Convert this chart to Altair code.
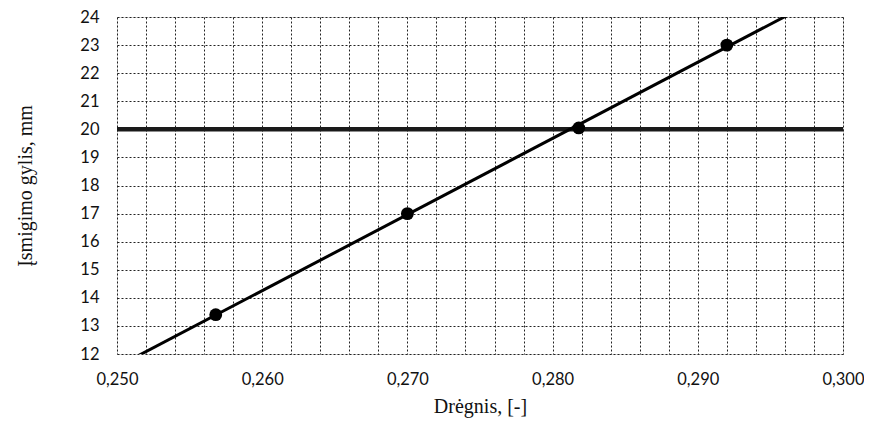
import altair as alt
import pandas as pd

moisture = [0.2568, 0.2700, 0.2818, 0.2920]
depth = [13.4, 17.0, 20.05, 23.0]
limit_depth = [20]
x_ticks = [round(0.250 + 0.002 * i, 3) for i in range(26)]
y_ticks = list(range(12, 25))

pts = pd.DataFrame({"x": moisture, "y": depth})
lim = pd.DataFrame({"y": limit_depth})

xscale = alt.Scale(domain=[0.25, 0.30], nice=False, zero=False)
yscale = alt.Scale(domain=[12, 24], nice=False, zero=False)

xaxis = alt.Axis(
    values=x_ticks,
    labelExpr="round(datum.value*1000) % 10 == 0 ? replace(format(datum.value, '.3f'), '.', ',') : ''",
    title="Drėgnis, [-]",
    ticks=False, domain=False, labelOverlap=False, labelFlush=False,
    grid=True, gridDash=[2, 2], gridColor="#222", gridWidth=1,
    labelFont="Lato", labelFontSize=16.5, labelColor="#111", labelPadding=17,
    titleFont="Liberation Serif", titleFontSize=20, titleFontWeight="normal",
    titleColor="#111", titlePadding=9,
)
yaxis = alt.Axis(
    values=y_ticks,
    title="Įsmigimo gylis, mm",
    ticks=False, domain=False, labelOverlap=False, labelFlush=False,
    grid=True, gridDash=[2, 2], gridColor="#222", gridWidth=1,
    labelFont="Lato", labelFontSize=16.5, labelColor="#111", labelPadding=18,
    titleFont="Liberation Serif", titleFontSize=20, titleFontWeight="normal",
    titleColor="#111", titlePadding=44,
)

base = alt.Chart(pts)

points = base.mark_circle(size=165, color="#000", opacity=1).encode(
    x=alt.X("x:Q", scale=xscale, axis=xaxis),
    y=alt.Y("y:Q", scale=yscale, axis=yaxis),
)

trend = base.transform_regression("x", "y", extent=[0.25, 0.30]).mark_line(
    color="#000", strokeWidth=3, clip=True
).encode(
    x=alt.X("x:Q", scale=xscale, axis=xaxis),
    y=alt.Y("y:Q", scale=yscale, axis=yaxis),
)

limit = alt.Chart(lim).mark_rule(color="#1a1a1a", strokeWidth=4.5).encode(
    y=alt.Y("y:Q", scale=yscale, axis=yaxis),
)

chart = alt.layer(limit, trend, points).properties(
    width=726, height=337,
    autosize=alt.AutoSizeParams(type="none"),
    padding={"left": 109, "top": 9, "right": 21, "bottom": 70},
).configure_view(
    stroke="#222", strokeDash=[2, 2], strokeWidth=1
).configure(background="white")

chart.save("out.html", embed_options={"renderer": "svg", "actions": False})
